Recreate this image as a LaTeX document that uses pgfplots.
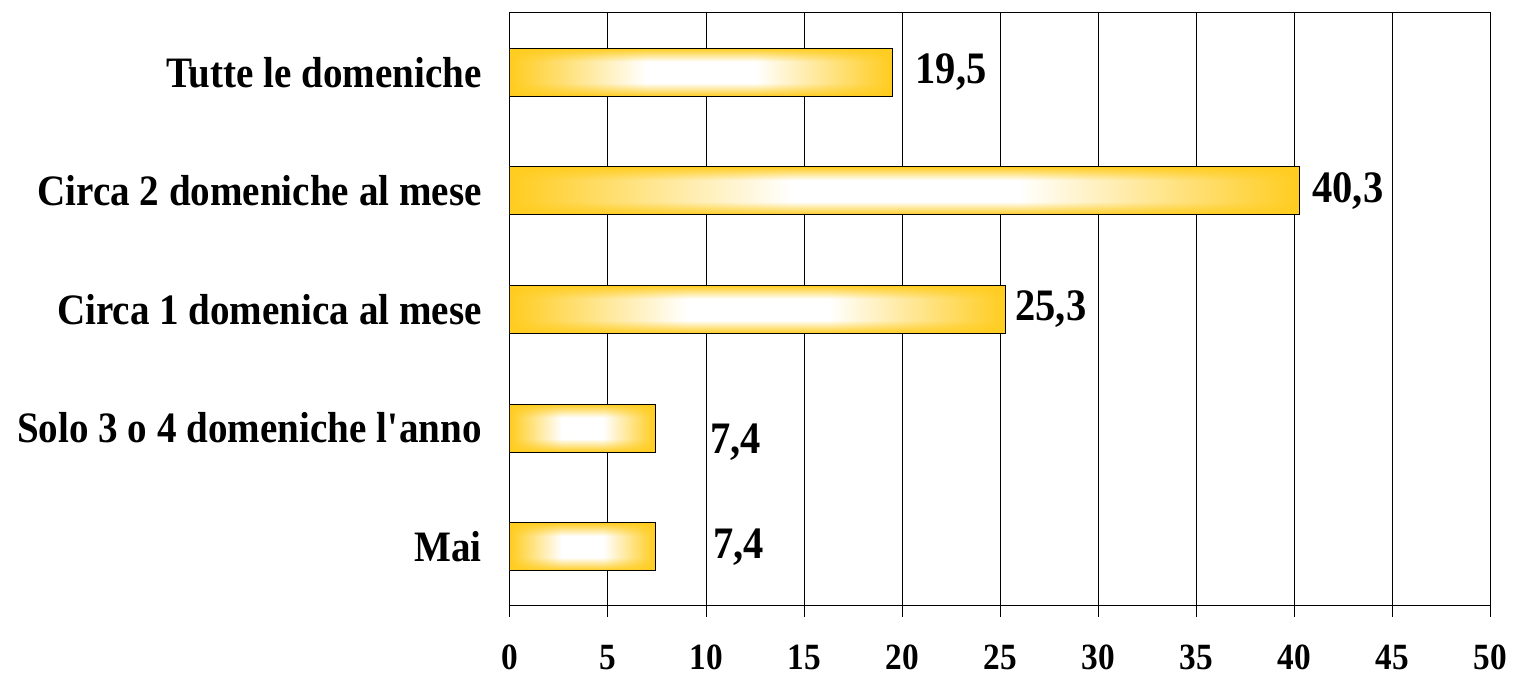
\documentclass[border=0pt]{standalone}
\usepackage{pgfplots}
\pgfplotsset{compat=1.18}
\usepackage{fontspec}
\setmainfont{Liberation Serif}[FakeStretch=0.9]

\pgfdeclarefunctionalshading{barshade}{\pgfpoint{-50bp}{-50bp}}{\pgfpoint{50bp}{50bp}}{}{
  abs 25 div 1 exch sub 1.8 mul dup 1 gt {pop 1} if dup 0 lt {pop 0} if
  exch abs 25 div 1 exch sub 1.4 mul dup 1 gt {pop 1} if dup 0 lt {pop 0} if
  mul
  dup 0.88 mul 0.12 add
  exch 0.2 mul 0.8 add
  exch
  1 3 1 roll
}

\pgfplotsset{goldbar/.style={xbar, bar width=24pt, draw=black, line width=0.5pt, shading=barshade, mark=none}}

\begin{document}
\begin{tikzpicture}
\begin{axis}[
  name=ax,
  scale only axis,
  width=490pt, height=296.5pt,
  xmin=0, xmax=50, ymin=-0.5, ymax=4.5,
  xtick={0,5,...,50},
  ytick={0,1,2,3,4},
  yticklabels={Mai, Solo 3 o 4 domeniche l\textquotesingle anno, Circa 1 domenica al mese, Circa 2 domeniche al mese, Tutte le domeniche},
  xmajorgrids,
  major grid style={black, line width=0.5pt},
  axis line style={black, line width=0.5pt},
  xtick pos=bottom,
  xtick align=outside,
  major tick length=5.5pt,
  xtick style={black, line width=0.5pt},
  ytick style={draw=none},
  /pgf/number format/assume math mode=true,
  xticklabel style={font=\fontsize{18.5}{22}\selectfont\bfseries, inner sep=0pt, yshift=-14pt},
  yticklabel style={font=\fontsize{21.7}{26}\selectfont\bfseries, inner sep=0pt, anchor=east, xshift=-14pt},
  point meta=x,
  nodes near coords={\pgfmathprintnumber[use comma, fixed, fixed zerofill, precision=1]{\pgfplotspointmeta}},
  nodes near coords style={anchor=west, inner sep=0pt, font=\fontsize{22.5}{27}\selectfont\bfseries, black},
]
\addplot[goldbar, nodes near coords style={xshift=29pt}] coordinates {(7.4,0)};
\addplot[goldbar, nodes near coords style={xshift=27.5pt, yshift=-7pt}] coordinates {(7.4,1)};
\addplot[goldbar, nodes near coords style={xshift=4.5pt}] coordinates {(25.3,2)};
\addplot[goldbar, nodes near coords style={xshift=6pt}] coordinates {(40.3,3)};
\addplot[goldbar, nodes near coords style={xshift=11.5pt}] coordinates {(19.5,4)};
\end{axis}
\pgfresetboundingbox
\path ([xshift=-255pt, yshift=-35pt]ax.south west) rectangle ([xshift=11.5pt, yshift=6.5pt]ax.north east);
\end{tikzpicture}
\end{document}
